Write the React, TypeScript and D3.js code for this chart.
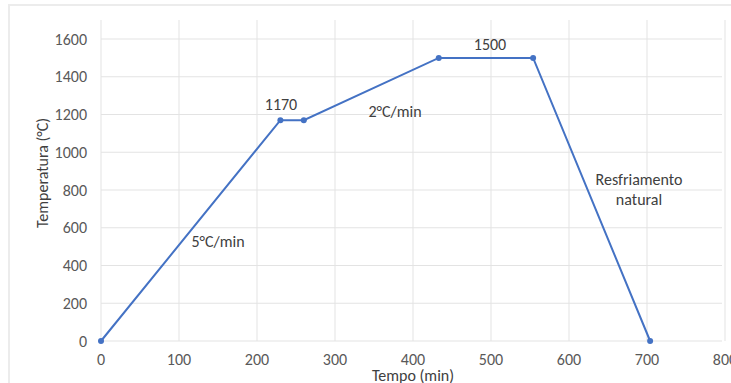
import React from "react";
import * as d3 from "d3";

// tempo (min) e temperatura (°C)
const tempo = [0, 230, 260, 433, 554, 704];
const temperatura = [0, 1170, 1170, 1500, 1500, 0];
const xTicks = [0, 100, 200, 300, 400, 500, 600, 700, 800];
const yTicks = [0, 200, 400, 600, 800, 1000, 1200, 1400, 1600];

const W = 731;
const H = 383;
const FONT = "Carlito, 'Open Sans', 'Liberation Sans', sans-serif";

export default function App() {
  const x = d3.scaleLinear().domain([0, 800]).range([101, 725]);
  const y = d3.scaleLinear().domain([0, 1600]).range([341, 39]);
  const plotTop = 20;
  const pts = tempo.map((t, i) => [t, temperatura[i]] as [number, number]);
  const line = d3
    .line<[number, number]>()
    .x((d) => x(d[0]))
    .y((d) => y(d[1]));

  return (
    <svg
      width={W}
      height={H}
      style={{ position: "absolute", left: 0, top: 0, background: "#fff" }}
      fontFamily={FONT}
      fontSize={16}
    >
      <rect x={9} y={5} width={740} height={400} fill="none" stroke="#ececec" strokeWidth={2} />

      {/* grade */}
      {yTicks.map((t) => (
        <line key={"gy" + t} x1={101} x2={722} y1={y(t)} y2={y(t)} stroke="#e3e3e3" strokeWidth={1} />
      ))}
      {xTicks.map((t) => (
        <line key={"gx" + t} x1={x(t)} x2={x(t)} y1={plotTop} y2={y(0)} stroke="#e3e3e3" strokeWidth={1} />
      ))}

      {/* rótulos dos eixos */}
      {yTicks.map((t) => (
        <text key={"ty" + t} x={87} y={y(t)} dy="0.35em" textAnchor="end" fill="#595959">
          {t}
        </text>
      ))}
      {xTicks.map((t) => (
        <text key={"tx" + t} x={x(t)} y={365} textAnchor="middle" fill="#595959">
          {t}
        </text>
      ))}
      <text transform="translate(48,173) rotate(-90)" textAnchor="middle" fill="#404040">
        Temperatura (°C)
      </text>
      <text x={x(400)} y={381} textAnchor="middle" fill="#404040">
        Tempo (min)
      </text>

      {/* série */}
      <path d={line(pts) || ""} fill="none" stroke="#4472C4" strokeWidth={2} />
      {pts.map((d, i) => (
        <circle key={i} cx={x(d[0])} cy={y(d[1])} r={3} fill="#4472C4" />
      ))}

      {/* anotações */}
      <text x={281} y={110} textAnchor="middle" fill="#404040">
        1170
      </text>
      <text x={490} y={50} textAnchor="middle" fill="#404040">
        1500
      </text>
      <text x={395} y={117} textAnchor="middle" fill="#404040">
        2°C/min
      </text>
      <text x={218} y={247} textAnchor="middle" fill="#404040">
        5°C/min
      </text>
      <text x={639} y={185} textAnchor="middle" fill="#404040">
        Resfriamento
      </text>
      <text x={639} y={205} textAnchor="middle" fill="#404040">
        natural
      </text>
    </svg>
  );
}
